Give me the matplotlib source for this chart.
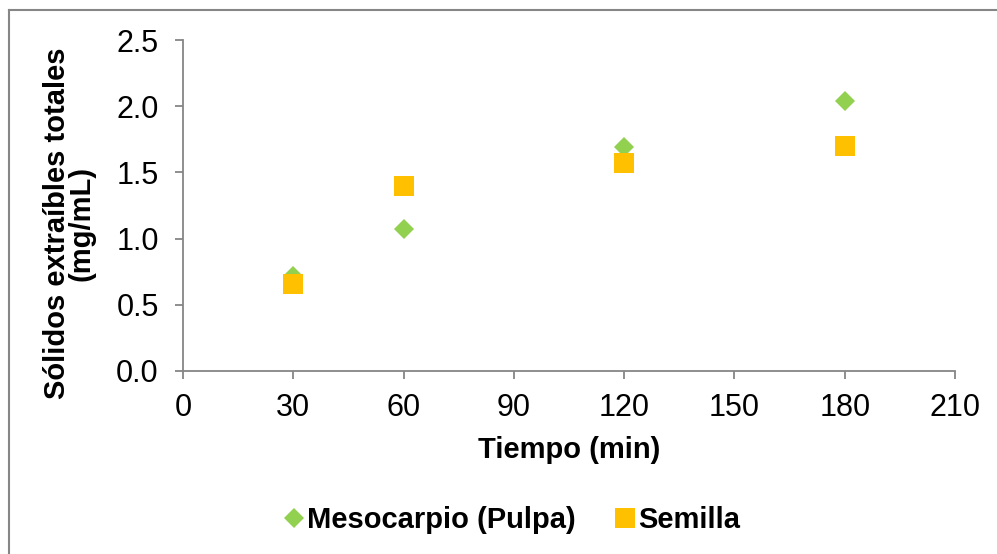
import matplotlib
matplotlib.use("Agg")
import matplotlib.pyplot as plt
from matplotlib.lines import Line2D

plt.rcParams['font.family'] = ['Liberation Sans', 'DejaVu Sans']

tiempo = [30, 60, 120, 180]
mesocarpio = [0.72, 1.07, 1.69, 2.04]
semilla = [0.66, 1.40, 1.57, 1.70]
xticks = [0, 30, 60, 90, 120, 150, 180, 210]
yticks = [0.0, 0.5, 1.0, 1.5, 2.0, 2.5]

green = '#92D050'
orange = '#FFC000'
gray = '#868686'

fig = plt.figure(figsize=(9.97, 5.54), dpi=100)
ax = fig.add_axes([183/997, 1-371/554, (955-183)/997, (371-40)/554])

ax.plot(tiempo, mesocarpio, linestyle='none', marker='D', markersize=10.2,
        color=green, markeredgewidth=0, label='Mesocarpio (Pulpa)')
ax.plot(tiempo, semilla, linestyle='none', marker='s', markersize=14.4,
        color=orange, markeredgewidth=0, label='Semilla')

ax.set_xlim(0, 210)
ax.set_ylim(0, 2.5)
ax.set_xticks(xticks)
ax.set_yticks(yticks)
ax.set_yticklabels([f'{v:.1f}' for v in yticks])
for s in ['top', 'right']:
    ax.spines[s].set_visible(False)
for s in ['left', 'bottom']:
    ax.spines[s].set_color(gray)
    ax.spines[s].set_linewidth(1.3)
ax.tick_params(direction='out', length=6, width=1.3, color=gray, labelsize=22)
ax.tick_params(axis='x', pad=10)
ax.tick_params(axis='y', pad=11.5)

ax.set_xlabel('Tiempo (min)', fontsize=21, fontweight='bold', labelpad=9)
ax.set_ylabel('Sólidos extraíbles totales\n(mg/mL)', fontsize=21,
              fontweight='bold', labelpad=15, linespacing=0.85, y=0.447)

leg = fig.legend(loc='center', bbox_to_anchor=(512/997, 1-520/554), ncol=2,
                 frameon=False, prop={'weight': 'bold', 'size': 21},
                 handlelength=0.7, handletextpad=0.1, columnspacing=1.35,
                 markerscale=1.0)

# partial figure border (left and top)
fig.add_artist(Line2D([8.5/997, 8.5/997], [0, 1-10/554], transform=fig.transFigure,
                      color=gray, linewidth=1.5))
fig.add_artist(Line2D([8.5/997, 1], [1-10/554, 1-10/554], transform=fig.transFigure,
                      color=gray, linewidth=1.5))

fig.savefig('out.png', dpi=100, facecolor='white')
